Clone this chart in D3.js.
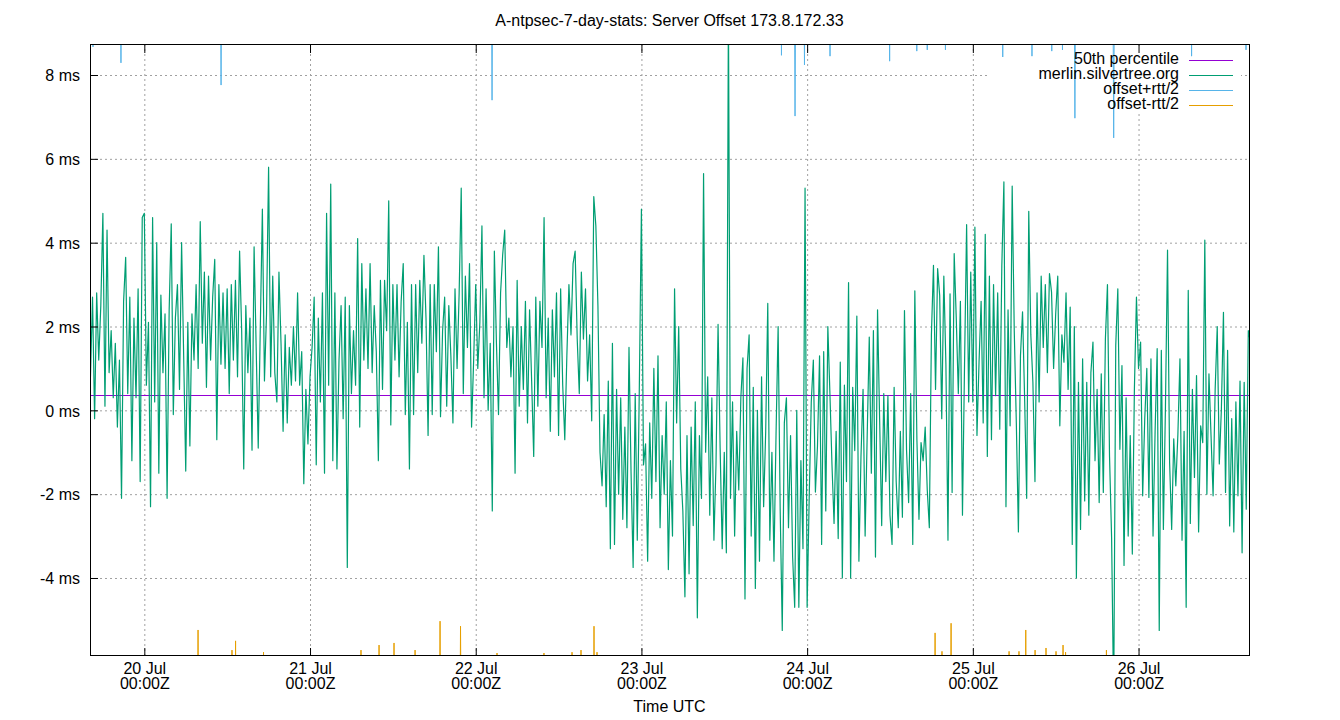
<!DOCTYPE html>
<html>
<head>
<meta charset="utf-8">
<script src="https://cdn.jsdelivr.net/npm/d3@7"></script>
<style>
  body { margin: 0; background: #fff; }
  svg { display: block; }
</style>
</head>
<body>
<div id="app"></div>
<script>
// chart text
let chartTitle = 'A-ntpsec-7-day-stats: Server Offset 173.8.172.33';
let xTitle = 'Time UTC';
let seriesNames = ['50th percentile', 'merlin.silvertree.org', 'offset+rtt/2', 'offset-rtt/2'];
let seriesColors = ['#9400d3', '#009e73', '#56b4e9', '#e69f00'];

// axes
let yTicks = [-4, -2, 0, 2, 4, 6, 8];
let dayTicks = ['2024-07-20', '2024-07-21', '2024-07-22', '2024-07-23', '2024-07-24', '2024-07-25', '2024-07-26'];
let timeStart = '2024-07-19T16:08:00Z';
let timeEnd = '2024-07-26T16:00:00Z';
let yMin = -5.861;
let yMax = 8.716;

// offset samples (ms), one every 18 minutes, first one at 19 Jul 16:12Z
let firstSample = '2024-07-19T16:12:00Z';
let sampleMinutes = 18;
let offJul19 = [0.8, 2.7, -0.2, 2.8, 1.2, 2.5, 4.7, 0.1, 4.3, 0.9, 1.9, 0.3, 1.6, -0.4, 1.2, -2.1, 2.6, 3.65, 0.4, 2.7, -1.2, 2.2, 0.3, 2.9, -1.7, 4.6];
let offJul20 = [4.7, 0.6, 2.1, -2.3, 4.6, 0.2, 4.0, -1.5, 2.75, 0.9,
  2.3, -2.1, 2.4, 4.45, -0.1, 2.2, 3.0, 0.5, 4.0, 1.3,
  -1.45, 2.1, -0.85, 2.3, 1.2, 3.0, 1.0, 4.5, 1.6, 3.3,
  0.55, 3.2, 1.2, 2.7, 3.6, -0.7, 3.0, 1.1, 2.8, 1.0,
  2.9, 0.4, 3.0, 1.2, 3.1, 0.8, 3.8, 1.9, -1.4, 2.5,
  0.9, 2.2, -0.95, 3.9, 1.5, -0.9, 2.0, 4.8, 0.7, 2.3,
  5.8, 0.8, 3.2, 0.9, 0.2, 3.3, 1.6, -0.5, 1.8, -0.3,
  1.5, 0.6, 2.0, 0.7, 2.8, 0.6, 1.4, -1.75, 0.5, -0.8];
let offJul21 = [0.8, 1.5, 2.7, -1.3, 2.2, 0.2, 2.8, -1.5, 4.7, 0.6,
  5.4, -1.2, 2.8, -1.4, 1.2, 2.5, -0.2, 2.7, -3.75, 2.5,
  0.4, 1.9, 0.6, 4.1, -0.4, 3.5, 1.2, 2.9, 1.0, 3.5,
  0.9, 2.5, 1.4, -1.2, 3.1, 0.5, 3.1, 1.9, 5.0, -0.35,
  3.0, 1.2, 3.0, 0.8, 2.6, 3.5, -0.1, 2.1, -1.4, 3.0,
  -0.1, 3.0, 0.9, 3.1, 1.6, 3.7, 2.2, -0.6, 3.0, -0.1,
  3.0, 1.4, 3.9, -0.15, 1.9, 2.7, 0.1, 2.5, 1.3, -0.3,
  2.9, 1.0, 2.8, 5.3, 0.4, 3.2, 1.5, 3.5, -0.4, 1.2];
let offJul22 = [3.0, 1.0, 2.1, 4.4, 0.3, 2.9, 0.0, 1.6, -2.4, 3.8,
  1.6, -0.1, 2.8, 3.7, 4.3, 1.5, 2.2, 0.8, 2.0, -1.5,
  3.1, 0.1, 2.0, 0.5, 2.6, -0.3, 2.4, 0.7, -1.1, 2.7,
  0.1, 2.6, 1.5, 4.6, 0.3, 2.2, -0.5, 2.4, 0.8, 2.8,
  -0.6, 2.9, 0.6, -0.7, 1.3, 3.0, 1.8, 3.5, 3.8, 1.7,
  0.4, 3.3, 1.7, 2.9, 0.7, 1.8, -0.25, 5.1, 4.4, 2.5,
  -1.0, -1.8, -0.1, -2.3, 0.7, -3.3, 1.6, -3.2, 0.5, -2.0,
  0.3, -2.6, -0.4, -2.8, 1.5, -1.5, -3.75, 0.4, -3.1, 0.6];
let offJul23 = [4.8, -1.3, -0.8, -3.6, -0.3, -2.1, 1.0, -1.7, 1.3, -2.8,
  -0.6, -2.0, 0.2, -3.8, -1.2, -3.0, 2.9, -0.3, 2.0, -1.4,
  -2.4, -4.45, -0.6, -3.9, -0.4, -2.75, 0.2, -4.95, -0.6, -2.1,
  5.65, -1.0, 0.8, -2.5, 0.3, -3.1, -1.3, 2.05, -0.9, -3.3,
  -1.0, -3.4, 9.6, -2.1, 0.2, -3.0, -0.5, -1.9, 0.3, 1.25,
  -4.5, 1.0, 1.8, -3.0, 0.55, -4.25, 0.0, -3.6, 0.8, -2.3,
  -0.5, 2.55, -3.1, -1.0, -3.6, -0.55, 2.0, -2.4, -5.25, -0.3,
  0.3, -2.8, -0.6, -3.5, -4.7, 0.0, -4.7, -1.2, -3.3, 5.3];
let offJul24 = [-4.7, -2.1, 0.2, 1.2, -1.95, -0.85, 1.3, -3.2, 1.4, -2.4,
  2.0, 0.4, -1.3, -2.7, -0.5, -3.06, 1.15, -4.0, 0.6, -1.7,
  3.05, -4.0, 0.55, -0.96, 2.25, -3.6, -1.1, 0.5, -3.0, -0.6,
  1.75, -1.5, 1.9, -3.5, 2.4, -0.2, -2.75, 0.4, -1.7, 0.35,
  -2.5, -3.2, 0.55, -1.7, -2.8, -0.5, -2.55, 2.38, -0.95, -2.2,
  0.4, -3.2, 2.85, -0.7, -2.6, -0.77, -1.2, -0.4, -1.9, -2.8,
  1.8, 3.46, 0.5, 3.38, 2.74, -0.2, 3.2, 1.1, -3.1, 2.78,
  -1.96, 3.74, 2.2, 0.4, 2.6, -2.5, 1.1, 4.43, 0.2, 3.3];
let offJul25 = [0.2, 4.37, -0.6, 1.15, 2.6, -0.3, 4.2, -1.1, 3.2, -0.7,
  3.0, 0.35, 2.8, -0.45, 3.45, 5.45, -2.3, 2.4, -0.37, 5.35,
  1.9, -0.3, -2.9, 1.3, 2.35, 0.3, -2.1, 4.75, 1.8, 0.67,
  -1.7, 2.8, 0.2, 3.2, 1.5, 3.0, 0.9, 3.26, 2.82, 1.0,
  2.3, 3.2, -0.37, 1.8, 1.15, 2.8, 0.5, 2.46, -3.2, 2.0,
  -4.0, 0.67, -2.84, 1.23, -2.16, 0.67, -2.5, 0.9, 1.63, -1.2,
  0.5, -2.2, 0.87, -1.96, 1.7, 3.0, -1.1, -3.04, -7.0, 1.55,
  2.9, -0.93, 1.07, -3.7, 0.3, -3.0, -0.6, -3.43, 0.5, 2.7];
let offJul26 = [1.0, 1.63, -2.04, -0.2, 1.0, -2.08, 1.23, -3.0, -0.5, 1.47,
  -5.25, 1.43, -2.84, 0.1, 3.82, -1.24, -2.84, -0.68, -1.8, -0.57,
  1.23, -3.1, -0.5, -4.7, 2.86, -2.7, 0.5, -1.6, 0.83, -2.9,
  -0.37, -0.77, 4.06, -2.0, 0.87, -0.6, -2.04, 0.5, 2.0, -1.28,
  0.03, 2.34, -1.96, 1.43, -2.76, -0.2, -2.9, 0.2, -2.04, 0.7,
  -3.4, 0.67, -2.36, 1.9, 1.63];

let median50 = 0.365;

// offset+rtt/2 is above the top of the plot except at these samples
let plusDips = [
  ['2024-07-19T16:34Z', 8.67], ['2024-07-19T20:37Z', 8.29], ['2024-07-20T11:07Z', 7.76],
  ['2024-07-22T02:22Z', 7.40], ['2024-07-23T20:17Z', 8.47], ['2024-07-23T22:15Z', 7.02],
  ['2024-07-23T23:37Z', 8.24], ['2024-07-24T03:19Z', 8.45], ['2024-07-24T11:57Z', 8.33],
  ['2024-07-24T15:53Z', 8.57], ['2024-07-24T17:24Z', 8.60], ['2024-07-24T20:02Z', 8.60],
  ['2024-07-25T04:20Z', 8.43], ['2024-07-25T08:34Z', 8.45], ['2024-07-25T11:26Z', 8.57],
  ['2024-07-25T12:59Z', 8.60], ['2024-07-25T14:47Z', 6.97], ['2024-07-25T20:24Z', 6.5],
  ['2024-07-26T07:41Z', 8.45], ['2024-07-26T15:34Z', 8.6]
];
// offset-rtt/2 is below the bottom of the plot except at these samples
let minusPeaks = [
  ['2024-07-20T07:47Z', -5.24], ['2024-07-20T12:42Z', -5.72], ['2024-07-20T13:13Z', -5.50],
  ['2024-07-20T17:16Z', -5.77], ['2024-07-21T07:23Z', -5.72], ['2024-07-21T10:00Z', -5.60],
  ['2024-07-21T12:10Z', -5.55], ['2024-07-21T15:13Z', -5.72], ['2024-07-21T18:50Z', -5.03],
  ['2024-07-21T21:48Z', -5.15], ['2024-07-22T03:05Z', -5.79], ['2024-07-22T09:53Z', -5.79],
  ['2024-07-22T13:57Z', -5.77], ['2024-07-22T15:15Z', -5.72], ['2024-07-22T17:08Z', -5.15],
  ['2024-07-22T17:34Z', -5.77], ['2024-07-24T18:32Z', -5.31], ['2024-07-24T19:32Z', -5.75],
  ['2024-07-24T20:51Z', -5.08], ['2024-07-25T05:15Z', -5.75], ['2024-07-25T06:41Z', -5.75],
  ['2024-07-25T07:40Z', -5.24], ['2024-07-25T09:01Z', -5.72], ['2024-07-25T10:36Z', -5.67],
  ['2024-07-25T12:03Z', -5.75], ['2024-07-25T13:04Z', -5.60], ['2024-07-25T13:26Z', -5.77],
  ['2024-07-25T19:21Z', -5.72]
];

let width = 1340;
let height = 720;
let plot = { left: 90, right: 1249, top: 45, bottom: 656 };
let font = '"Liberation Sans", Arial, sans-serif';

let offsets = [].concat(offJul19, offJul20, offJul21, offJul22, offJul23, offJul24, offJul25, offJul26);
let t0 = new Date(firstSample).getTime();
let stepMs = sampleMinutes * 60000;
let offsetData = offsets.map(function(v, i) { return [new Date(t0 + i * stepMs), v]; });

let xScale = d3.scaleUtc()
               .domain([new Date(timeStart), new Date(timeEnd)])
               .range([plot.left, plot.right]);

let yScale = d3.scaleLinear()
               .domain([yMin, yMax])
               .range([plot.bottom, plot.top]);

let dayDates = dayTicks.map(function(d) { return new Date(d + 'T00:00:00Z'); });

let svg = d3.select('#app').append('svg')
            .attr('width', width)
            .attr('height', height)
            .style('background', '#fff')
            .style('font-family', font);

svg.append('defs').append('clipPath')
   .attr('id', 'plotclip')
   .append('rect')
     .attr('x', plot.left)
     .attr('y', plot.top)
     .attr('width', plot.right - plot.left)
     .attr('height', plot.bottom - plot.top);

// grid
let gridX = svg.append('g')
               .attr('transform', 'translate(0,' + plot.bottom + ')')
               .call(d3.axisBottom(xScale).tickValues(dayDates).tickSize(-(plot.bottom - plot.top)).tickFormat(''));
let gridY = svg.append('g')
               .attr('transform', 'translate(' + plot.left + ',0)')
               .call(d3.axisLeft(yScale).tickValues(yTicks).tickSize(-(plot.right - plot.left)).tickFormat(''));
[gridX, gridY].forEach(function(g) {
  g.select('.domain').remove();
  g.selectAll('line')
   .attr('stroke', '#a0a0a0')
   .attr('stroke-width', 1)
   .attr('stroke-dasharray', '2,3');
});

// key background hides the grid behind it
svg.append('rect')
   .attr('x', 988)
   .attr('y', plot.top + 1)
   .attr('width', 253)
   .attr('height', 66)
   .attr('fill', '#fff');

let data = svg.append('g').attr('clip-path', 'url(#plotclip)');

let line = d3.line()
             .x(function(d) { return xScale(d[0]); })
             .y(function(d) { return yScale(d[1]); });

// 50th percentile
let medianY = Math.round(yScale(median50)) + 0.5;
data.append('line')
    .attr('x1', xScale(new Date(timeStart)))
    .attr('x2', xScale(new Date(timeEnd)))
    .attr('y1', medianY)
    .attr('y2', medianY)
    .attr('stroke', seriesColors[0])
    .attr('stroke-width', 1);

// offset
data.append('path')
    .datum(offsetData)
    .attr('d', line)
    .attr('fill', 'none')
    .attr('stroke', seriesColors[1])
    .attr('stroke-width', 1.2)
    .attr('stroke-linejoin', 'round');

// offset +/- rtt/2: only the samples that come into the plot
function spike(d, outside) {
  let t = new Date(d[0]).getTime();
  return [[new Date(t - stepMs), outside], [new Date(t), d[1]], [new Date(t + stepMs), outside]];
}

data.selectAll('path.plus')
    .data(plusDips)
    .enter()
    .append('path')
      .attr('class', 'plus')
      .attr('d', function(d) { return line(spike(d, yMax + 8)); })
      .attr('fill', 'none')
      .attr('stroke', seriesColors[2])
      .attr('stroke-width', 1);

data.selectAll('path.minus')
    .data(minusPeaks)
    .enter()
    .append('path')
      .attr('class', 'minus')
      .attr('d', function(d) { return line(spike(d, yMin - 8)); })
      .attr('fill', 'none')
      .attr('stroke', seriesColors[3])
      .attr('stroke-width', 1);

// border
svg.append('rect')
   .attr('x', plot.left + 0.5)
   .attr('y', plot.top - 0.5)
   .attr('width', plot.right - plot.left)
   .attr('height', plot.bottom - plot.top)
   .attr('fill', 'none')
   .attr('stroke', '#000')
   .attr('stroke-width', 1);

// y axis
let yAxis = svg.append('g')
               .attr('transform', 'translate(' + plot.left + ',0)')
               .call(d3.axisLeft(yScale).tickValues(yTicks).tickSize(-8).tickPadding(10)
                       .tickFormat(function(d) { return d + ' ms'; }));
yAxis.select('.domain').remove();
yAxis.attr('font-size', 16).attr('font-family', font);
yAxis.selectAll('text').attr('fill', '#000').attr('dy', '0.36em');
yAxis.selectAll('line').attr('stroke', '#000');

// x axis, ticks on both sides
let xAxis = svg.append('g')
               .attr('transform', 'translate(0,' + plot.bottom + ')')
               .call(d3.axisBottom(xScale).tickValues(dayDates).tickSize(-8).tickFormat(''));
xAxis.select('.domain').remove();
xAxis.selectAll('line').attr('stroke', '#000');
xAxis.attr('font-size', 16).attr('font-family', font);

let fmtDay = d3.utcFormat('%-d %b');
let fmtTime = d3.utcFormat('%H:%MZ');
xAxis.selectAll('.tick').each(function(d) {
  let t = d3.select(this).append('text')
            .attr('fill', '#000')
            .attr('text-anchor', 'middle');
  t.append('tspan').attr('x', 0).attr('y', 18).text(fmtDay(d));
  t.append('tspan').attr('x', 0).attr('y', 33).text(fmtTime(d));
});

let xTop = svg.append('g')
              .attr('transform', 'translate(0,' + plot.top + ')')
              .call(d3.axisTop(xScale).tickValues(dayDates).tickSize(-8).tickFormat(''));
xTop.select('.domain').remove();
xTop.selectAll('line').attr('stroke', '#000');

// titles
svg.append('text')
   .attr('x', 669.5)
   .attr('y', 26)
   .attr('text-anchor', 'middle')
   .attr('font-size', 16)
   .attr('fill', '#000')
   .text(chartTitle);

svg.append('text')
   .attr('x', 669.5)
   .attr('y', 712)
   .attr('text-anchor', 'middle')
   .attr('font-size', 16)
   .attr('fill', '#000')
   .text(xTitle);

// key
let key = svg.append('g')
             .selectAll('g')
             .data(seriesNames)
             .enter()
             .append('g')
               .attr('transform', function(d, i) { return 'translate(0,' + (60 + i * 15) + ')'; });

key.append('text')
   .attr('x', 1179)
   .attr('y', 4)
   .attr('text-anchor', 'end')
   .attr('font-size', 16)
   .attr('fill', '#000')
   .text(function(d) { return d; });

key.append('line')
   .attr('x1', 1189)
   .attr('x2', 1233)
   .attr('y1', 0.5)
   .attr('y2', 0.5)
   .attr('stroke', function(d, i) { return seriesColors[i]; })
   .attr('stroke-width', 1.2);
</script>
</body>
</html>
